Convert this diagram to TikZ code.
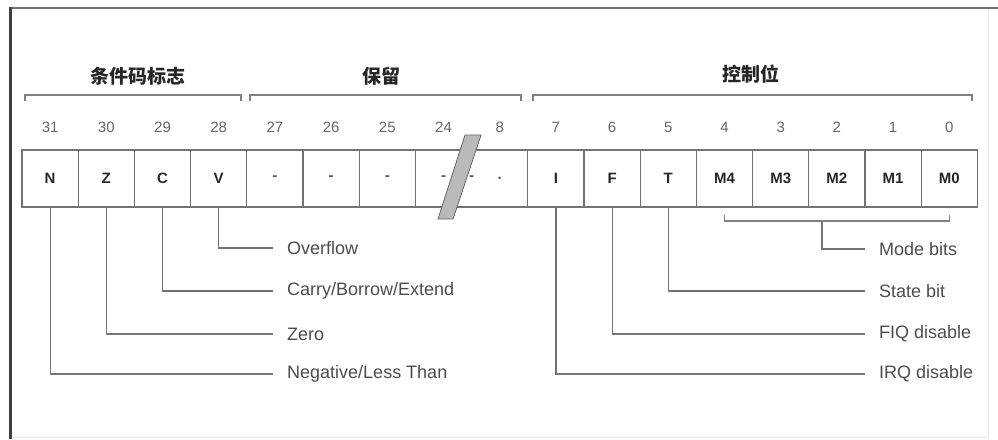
\documentclass[tikz,border=0pt]{standalone}
\usepackage{fontspec}
\setmainfont{Liberation Sans}
\newfontfamily\cjk{Noto Sans CJK SC}
\usetikzlibrary{positioning}

\begin{document}
\begin{tikzpicture}[x=1pt, y=-1pt,
    cell/.style={rectangle, draw=black!55, line width=1.2pt, minimum width=56.2pt, minimum height=57pt, inner sep=0pt, outer sep=0pt, font=\fontsize{15}{17}\selectfont\bfseries, text=black!85},
    bitno/.style={font=\fontsize{15}{17}\selectfont, text=black!60},
    filler/.style={font=\fontsize{15}{17}\selectfont\bfseries, text=black!65},
    title/.style={font=\cjk\bfseries\fontsize{19}{21}\selectfont, text=black!85},
    desc/.style={anchor=west, inner xsep=14pt, inner ysep=0pt, font=\fontsize{18}{20}\selectfont, text=black!70},
    lead/.style={draw=black!55, line width=1.2pt},
    brace/.style={draw=black!50, line width=1.2pt}]
    \useasboundingbox (0,0) rectangle (998,439);

    % Frame
    \draw[black!8, line width=1pt] (988,10) -- (988,437) -- (10,437);
    \draw[black!55, line width=2pt] (10,8) -- (998,8);
    \draw[black!75, line width=3pt] (10,439) -- (10,7);

    % Register cells
    \node [cell] (c31) at (50.1,178.5) {N};
    \node [cell, right=0pt of c31] (c30) {Z};
    \node [cell, right=0pt of c30] (c29) {C};
    \node [cell, right=0pt of c29] (c28) {V};
    \node [cell, filler, right=0pt of c28] (c27) {-};
    \node [cell, filler, right=0pt of c27] (c26) {-};
    \node [cell, filler, right=0pt of c26] (c25) {-};
    \node [cell, minimum width=112.4pt, right=0pt of c25] (cgap) {};
    \node [cell, right=0pt of cgap] (c7) {I};
    \node [cell, right=0pt of c7] (c6) {F};
    \node [cell, right=0pt of c6] (c5) {T};
    \node [cell, right=0pt of c5] (c4) {M4};
    \node [cell, right=0pt of c4] (c3) {M3};
    \node [cell, right=0pt of c3] (c2) {M2};
    \node [cell, right=0pt of c2] (c1) {M1};
    \node [cell, right=0pt of c1] (c0) {M0};
    \node [filler] (d24) at ([xshift=-28.1pt]cgap.center) {-};
    \node [filler] (dmid) at (cgap.center) {-};
    \node [filler] (d8) at ([xshift=28.1pt]cgap.center) {.};
    \filldraw[fill=gray!55, draw=black!60, line width=0.8pt] (465,135) -- (481,135) -- (453,219) -- (438,219) -- cycle;

    % Bit numbers
    \node [bitno] (b31) at ([yshift=23pt]c31.north) {31};
    \node [bitno] (b30) at ([yshift=23pt]c30.north) {30};
    \node [bitno] (b29) at ([yshift=23pt]c29.north) {29};
    \node [bitno] (b28) at ([yshift=23pt]c28.north) {28};
    \node [bitno] (b27) at ([yshift=23pt]c27.north) {27};
    \node [bitno] (b26) at ([yshift=23pt]c26.north) {26};
    \node [bitno] (b25) at ([yshift=23pt]c25.north) {25};
    \node [bitno] (b24) at ([xshift=-28.1pt, yshift=23pt]cgap.north) {24};
    \node [bitno] (b8) at ([xshift=28.1pt, yshift=23pt]cgap.north) {8};
    \node [bitno] (b7) at ([yshift=23pt]c7.north) {7};
    \node [bitno] (b6) at ([yshift=23pt]c6.north) {6};
    \node [bitno] (b5) at ([yshift=23pt]c5.north) {5};
    \node [bitno] (b4) at ([yshift=23pt]c4.north) {4};
    \node [bitno] (b3) at ([yshift=23pt]c3.north) {3};
    \node [bitno] (b2) at ([yshift=23pt]c2.north) {2};
    \node [bitno] (b1) at ([yshift=23pt]c1.north) {1};
    \node [bitno] (b0) at ([yshift=23pt]c0.north) {0};

    % Groups
    \draw[brace] (25,101) -- (25,95) -- (241,95) -- (241,101);
    \draw[brace] (250,101) -- (250,95) -- (521,95) -- (521,101);
    \draw[brace] (533,101) -- (533,95) -- (972,95) -- (972,101);
    \node [title] (tcond) at (138,76) {条件码标志};
    \node [title] (tres) at (381,76) {保留};
    \node [title] (tctrl) at (751,74) {控制位};

    % Descriptions
    \node [desc] (lover) at (273,248) {Overflow};
    \node [desc] (lcarry) at (273,291) {Carry/Borrow/Extend};
    \node [desc] (lzero) at (273,334) {Zero};
    \node [desc] (lneg) at (273,374) {Negative/Less Than};
    \node [desc] (lmode) at (865,249) {Mode bits};
    \node [desc] (lstate) at (865,291) {State bit};
    \node [desc] (lfiq) at (865,334) {FIQ disable};
    \node [desc] (lirq) at (865,374) {IRQ disable};

    % Leaders
    \draw[brace] ([yshift=-8pt]c4.south) -- ([yshift=-14pt]c4.south) -- ([yshift=-14pt]c0.south) -- ([yshift=-8pt]c0.south);
    \coordinate (modemid) at (822,221);
    \draw[lead] (c28.south) |- (lover.west);
    \draw[lead] (c29.south) |- (lcarry.west);
    \draw[lead] (c30.south) |- (lzero.west);
    \draw[lead] (c31.south) |- (lneg.west);
    \draw[lead] (modemid) |- (lmode.west);
    \draw[lead] (c5.south) |- (lstate.west);
    \draw[lead] (c6.south) |- (lfiq.west);
    \draw[lead] (c7.south) |- (lirq.west);
\end{tikzpicture}
\end{document}
